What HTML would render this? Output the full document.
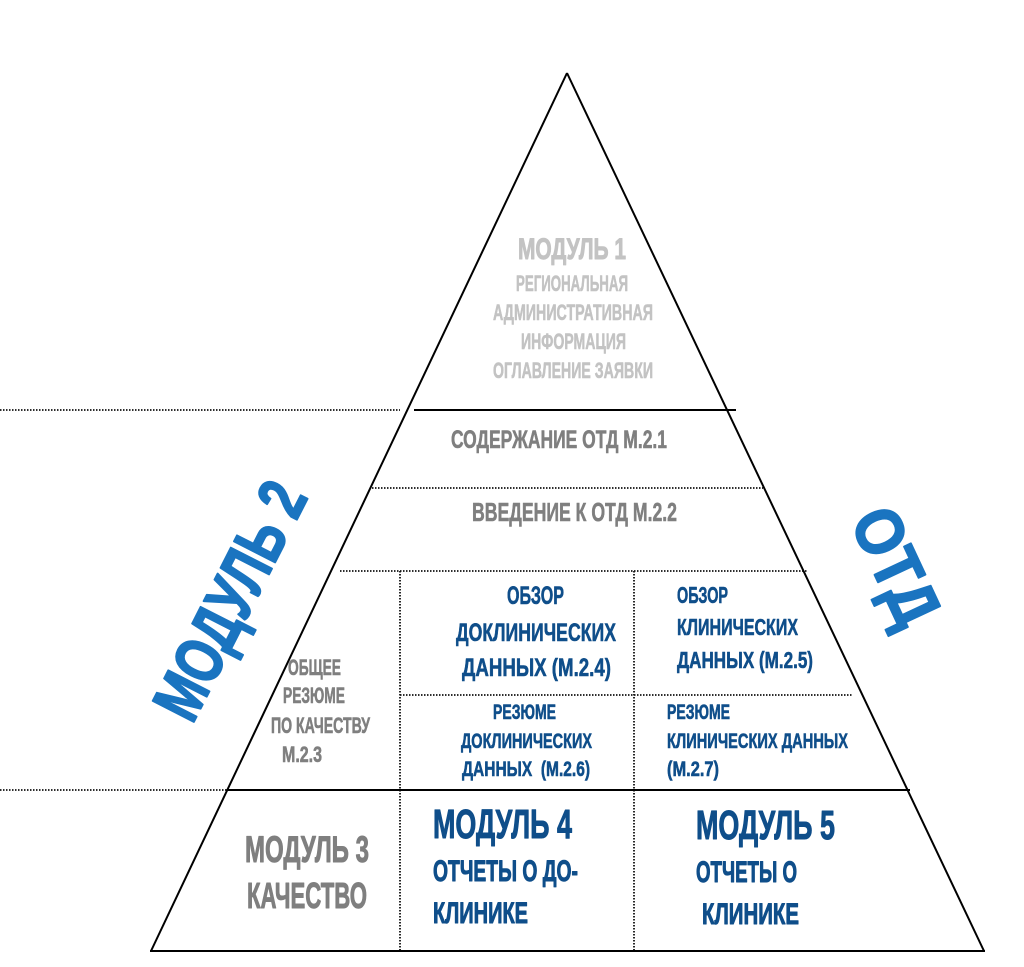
<!DOCTYPE html>
<html>
<head>
<meta charset="utf-8">
<style>
  html, body { margin: 0; padding: 0; background: #ffffff; }
  body { width: 1024px; height: 967px; overflow: hidden; }
  svg { display: block; }
  text { font-family: "Liberation Sans Narrow", "Liberation Sans", "DejaVu Sans", sans-serif; font-weight: bold; stroke-width: 0.6; stroke-linejoin: round; }
  .lg { fill: #c3c3c3; stroke: #c3c3c3; }
  .dg { fill: #7f7f7f; stroke: #7f7f7f; }
  .db { fill: #0f4e8a; stroke: #0f4e8a; }
  .bb { fill: #1a74c0; stroke: #1a74c0; stroke-width: 2; }
  .big { stroke-width: 1; }
  .solid { stroke: #000; stroke-width: 2; fill: none; }
  .dot { stroke: #111; stroke-width: 1.8; stroke-dasharray: 1.5 1.5; fill: none; }
</style>
</head>
<body>
<svg width="1024" height="967" viewBox="0 0 1024 967" xmlns="http://www.w3.org/2000/svg">
  <!-- dotted lines -->
  <line class="dot" x1="0" y1="410" x2="400" y2="410"/>
  <line class="dot" x1="0" y1="790" x2="238" y2="790"/>
  <line class="dot" x1="372" y1="488" x2="763" y2="488"/>
  <line class="dot" x1="340" y1="571" x2="807" y2="571"/>
  <line class="dot" x1="400" y1="695" x2="852" y2="695"/>
  <line class="dot" x1="400" y1="571" x2="400" y2="951"/>
  <line class="dot" x1="634" y1="571" x2="634" y2="951"/>

  <!-- triangle -->
  <line class="solid" x1="567" y1="73" x2="151" y2="951"/>
  <line class="solid" x1="567" y1="73" x2="984" y2="951"/>
  <line class="solid" x1="150" y1="951" x2="985" y2="951"/>
  <line class="solid" x1="414" y1="410" x2="736" y2="410"/>
  <line class="solid" x1="227" y1="790" x2="910" y2="790"/>

  <!-- Module 1 -->
  <text class="lg big" x="518" y="259" font-size="30" textLength="108" lengthAdjust="spacingAndGlyphs">МОДУЛЬ 1</text>
  <text class="lg" x="516" y="291" font-size="22" textLength="112" lengthAdjust="spacingAndGlyphs">РЕГИОНАЛЬНАЯ</text>
  <text class="lg" x="493" y="320" font-size="22" textLength="160" lengthAdjust="spacingAndGlyphs">АДМИНИСТРАТИВНАЯ</text>
  <text class="lg" x="521" y="349" font-size="22" textLength="105" lengthAdjust="spacingAndGlyphs">ИНФОРМАЦИЯ</text>
  <text class="lg" x="493" y="378" font-size="22" textLength="160" lengthAdjust="spacingAndGlyphs">ОГЛАВЛЕНИЕ ЗАЯВКИ</text>

  <!-- M.2.1 / M.2.2 -->
  <text class="dg" x="451" y="448" font-size="25" textLength="216" lengthAdjust="spacingAndGlyphs">СОДЕРЖАНИЕ ОТД М.2.1</text>
  <text class="dg" x="472" y="521" font-size="26" textLength="205" lengthAdjust="spacingAndGlyphs">ВВЕДЕНИЕ К ОТД М.2.2</text>

  <!-- M.2.3 -->
  <text class="dg" x="288" y="675" font-size="22" textLength="53" lengthAdjust="spacingAndGlyphs">ОБЩЕЕ</text>
  <text class="dg" x="283" y="703" font-size="22" textLength="62" lengthAdjust="spacingAndGlyphs">РЕЗЮМЕ</text>
  <text class="dg" x="271" y="733" font-size="22" textLength="99" lengthAdjust="spacingAndGlyphs">ПО КАЧЕСТВУ</text>
  <text class="dg" x="282" y="762" font-size="22" textLength="40" lengthAdjust="spacingAndGlyphs">М.2.3</text>

  <!-- M.2.4 -->
  <text class="db" x="507" y="604" font-size="25" textLength="57" lengthAdjust="spacingAndGlyphs">ОБЗОР</text>
  <text class="db" x="456" y="641" font-size="25" textLength="160" lengthAdjust="spacingAndGlyphs">ДОКЛИНИЧЕСКИХ</text>
  <text class="db" x="462" y="676" font-size="25" textLength="149" lengthAdjust="spacingAndGlyphs">ДАННЫХ (М.2.4)</text>

  <!-- M.2.5 -->
  <text class="db" x="677" y="603" font-size="23" textLength="51" lengthAdjust="spacingAndGlyphs">ОБЗОР</text>
  <text class="db" x="677" y="635" font-size="23" textLength="121" lengthAdjust="spacingAndGlyphs">КЛИНИЧЕСКИХ</text>
  <text class="db" x="677" y="668" font-size="23" textLength="136" lengthAdjust="spacingAndGlyphs">ДАННЫХ (М.2.5)</text>

  <!-- M.2.6 -->
  <text class="db" x="493" y="719" font-size="21" textLength="63" lengthAdjust="spacingAndGlyphs">РЕЗЮМЕ</text>
  <text class="db" x="461" y="748" font-size="21" textLength="131" lengthAdjust="spacingAndGlyphs">ДОКЛИНИЧЕСКИХ</text>
  <text class="db" x="462" y="776" font-size="21" textLength="128" lengthAdjust="spacingAndGlyphs" xml:space="preserve">ДАННЫХ  (М.2.6)</text>

  <!-- M.2.7 -->
  <text class="db" x="667" y="719" font-size="21" textLength="63" lengthAdjust="spacingAndGlyphs">РЕЗЮМЕ</text>
  <text class="db" x="667" y="748" font-size="21" textLength="181" lengthAdjust="spacingAndGlyphs">КЛИНИЧЕСКИХ ДАННЫХ</text>
  <text class="db" x="667" y="776" font-size="21" textLength="52" lengthAdjust="spacingAndGlyphs">(М.2.7)</text>

  <!-- Module 3 -->
  <text class="dg big" x="245" y="862" font-size="37" textLength="124" lengthAdjust="spacingAndGlyphs">МОДУЛЬ 3</text>
  <text class="dg big" x="247" y="908" font-size="36" textLength="120" lengthAdjust="spacingAndGlyphs">КАЧЕСТВО</text>

  <!-- Module 4 -->
  <text class="db big" x="433" y="838" font-size="41" textLength="139" lengthAdjust="spacingAndGlyphs">МОДУЛЬ 4</text>
  <text class="db big" x="433" y="881" font-size="30" textLength="145" lengthAdjust="spacingAndGlyphs">ОТЧЕТЫ О ДО-</text>
  <text class="db big" x="433" y="923" font-size="30" textLength="95" lengthAdjust="spacingAndGlyphs">КЛИНИКЕ</text>

  <!-- Module 5 -->
  <text class="db big" x="696" y="839" font-size="41" textLength="139" lengthAdjust="spacingAndGlyphs">МОДУЛЬ 5</text>
  <text class="db big" x="696" y="882" font-size="30" textLength="101" lengthAdjust="spacingAndGlyphs">ОТЧЕТЫ О</text>
  <text class="db big" x="702" y="924" font-size="30" textLength="97" lengthAdjust="spacingAndGlyphs">КЛИНИКЕ</text>

  <!-- Rotated labels -->
  <g transform="translate(229,600) rotate(-63)">
    <text class="bb" x="-128" y="24" font-size="67" textLength="256" lengthAdjust="spacingAndGlyphs">МОДУЛЬ 2</text>
  </g>
  <g transform="translate(897,566) rotate(65)">
    <text class="bb" x="-61" y="24" font-size="67" textLength="122" lengthAdjust="spacingAndGlyphs">ОТД</text>
  </g>
</svg>
</body>
</html>
